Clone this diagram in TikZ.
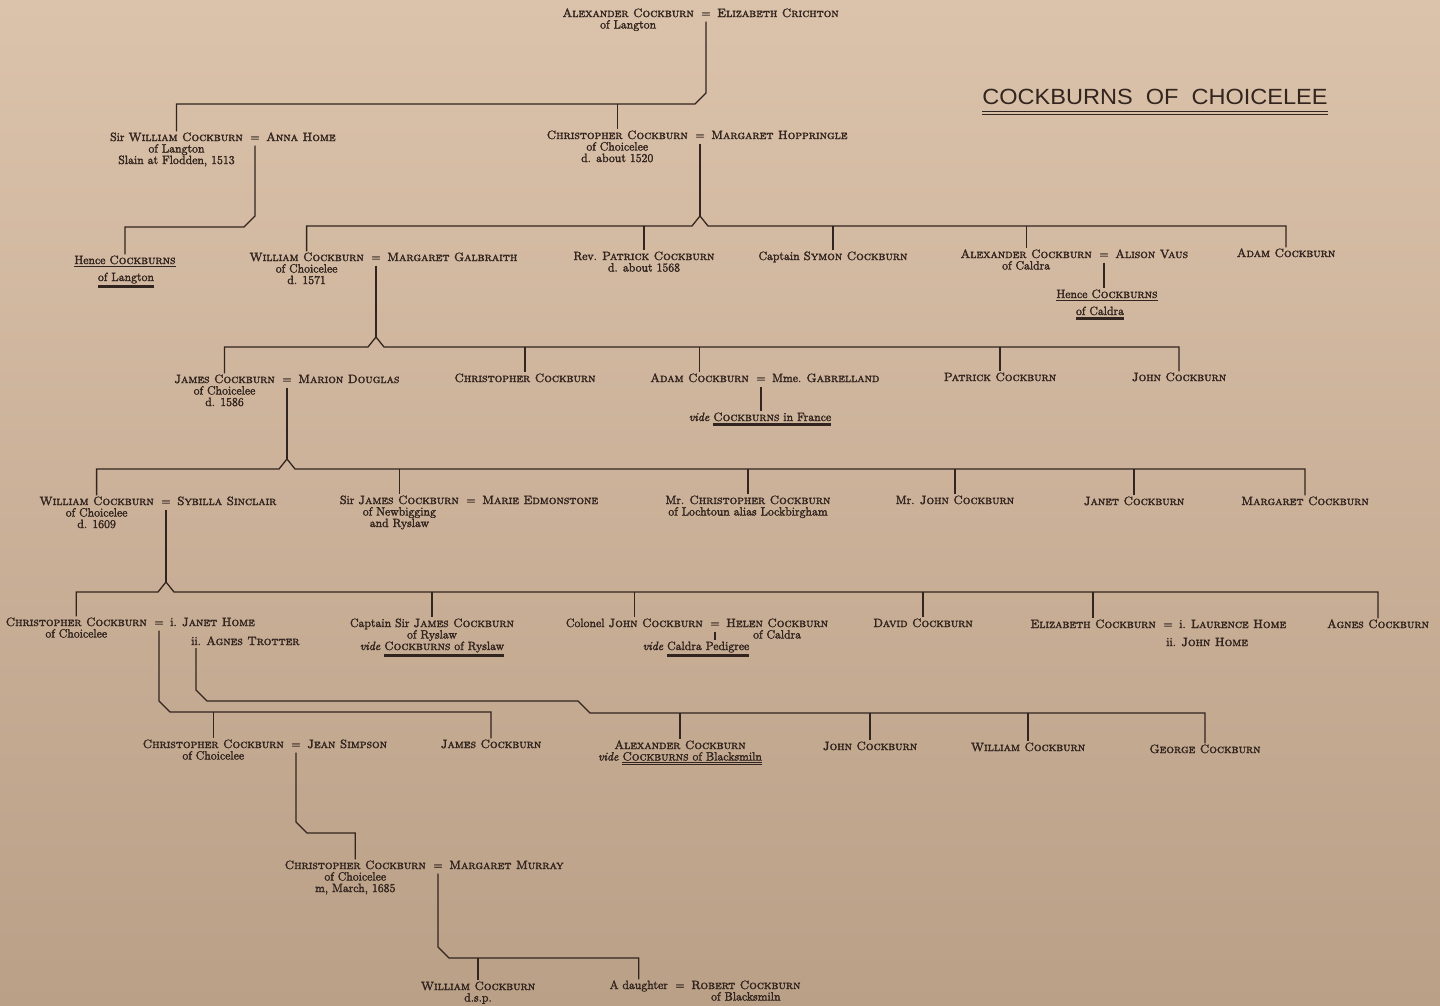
\documentclass[tikz,border=0pt]{standalone}
\usepackage{fontspec}
\usepackage{graphicx}
\newfontfamily\titlefont{Liberation Sans}
\definecolor{ink}{RGB}{50,36,30}
\definecolor{paperTop}{RGB}{219,194,170}
\definecolor{paperBot}{RGB}{186,160,135}

% single and double underlines that keep the baseline of the text
\newcommand\sul[1]{\vtop{\hbox{#1}\kern1.6pt\hrule height 0.7pt}}
\newcommand\dul[1]{\vtop{\hbox{#1}\kern1.4pt\hrule height 0.6pt\kern0.9pt\hrule height 1.4pt}}

% heavier printing ink: fill and stroke the glyphs
\newcommand\inkon{\special{pdf:literal direct 2 Tr 0.28 w}}
\newcommand\inkoff{\special{pdf:literal direct 0 Tr}}

% a married pair: "=" sign with husband to its left and wife to its right
\newcommand\couple[5]{%
  \node[eqs, anchor=base] (e#1) at (#2,#3) {=};
  \node[nm, anchor=base east] (a#1) at ([xshift=-12pt]e#1.base) {#4};
  \node[nm, anchor=base west] (b#1) at ([xshift=11pt]e#1.base) {#5};}
% a further line of text centred under another
\newcommand\under[3]{\node[nm, anchor=base] (#1) at ([yshift=-11.5pt]#2.base) {#3};}

\begin{document}
\begin{tikzpicture}[x=1pt, y=-1pt,
  nm/.style={inner sep=0pt, text=ink, font=\fontsize{12}{11.5}\selectfont,
             text height=9.5pt, text depth=3pt,
             execute at begin node=\inkon, execute at end node=\inkoff},
  eqs/.style={nm, text depth=4.5pt},
  link/.style={draw=ink, line width=1.3pt, line join=miter}]

\shade[top color=paperTop, bottom color=paperBot] (0,0) rectangle (1440,1005);
\useasboundingbox (0,0) rectangle (1440,1005);

% ---------- title ----------
\node[inner sep=0pt, text=ink, font=\titlefont\fontsize{22}{22}\selectfont]
  (title) at (1155,97) {\scalebox{1.07}[1]{COCKBURNS\ \ OF\ \ CHOICELEE}};
\draw[ink, line width=0.8pt] ([yshift=-6pt]title.south west) -- ([yshift=-6pt]title.south east);
\draw[ink, line width=1.5pt] ([yshift=-9.5pt]title.south west) -- ([yshift=-9.5pt]title.south east);

% ---------- generation 1 ----------
\couple{0}{706}{17}{\textsc{Alexander Cockburn}}{\textsc{Elizabeth Crichton}}
\under{s0a}{a0}{of Langton}

% ---------- generation 2 ----------
\couple{1}{255}{141}{Sir \textsc{William Cockburn}}{\textsc{Anna Home}}
\under{s1a}{a1}{of Langton}
\under{s1b}{s1a}{Slain at Flodden, 1513}

\couple{2}{700}{139}{\textsc{Christopher Cockburn}}{\textsc{Margaret Hoppringle}}
\under{s2a}{a2}{of Choicelee}
\under{s2b}{s2a}{d. about 1520}

% ---------- generation 3 ----------
\node[nm, anchor=base] (hl) at (125,264) {\sul{Hence \textsc{Cockburns}}};
\node[nm, anchor=base] (hl2) at (126,281) {\dul{of Langton}};

\couple{3}{376}{261}{\textsc{William Cockburn}}{\textsc{Margaret Galbraith}}
\under{s3a}{a3}{of Choicelee}
\under{s3b}{s3a}{d. 1571}

\node[nm, anchor=base] (rp) at (644,260) {Rev. \textsc{Patrick Cockburn}};
\under{rps}{rp}{d. about 1568}

\node[nm, anchor=base] (cs) at (833,260) {Captain \textsc{Symon Cockburn}};

\couple{4}{1104}{258}{\textsc{Alexander Cockburn}}{\textsc{Alison Vaus}}
\under{s4a}{a4}{of Caldra}

\node[nm, anchor=base] (ad) at (1286,257) {\textsc{Adam Cockburn}};

\node[nm, anchor=base] (hc) at (1107,298) {\sul{Hence \textsc{Cockburns}}};
\node[nm, anchor=base] (hc2) at (1100,315) {\dul{of Caldra}};

% ---------- generation 4 ----------
\couple{5}{287}{383}{\textsc{James Cockburn}}{\textsc{Marion Douglas}}
\under{s5a}{a5}{of Choicelee}
\under{s5b}{s5a}{d. 1586}

\node[nm, anchor=base] (cc3) at (525,382) {\textsc{Christopher Cockburn}};

\couple{6}{761}{382}{\textsc{Adam Cockburn}}{Mme. \textsc{Gabrelland}}
\node[nm, anchor=base] (v6) at (760,421) {\textit{vide} \dul{\textsc{Cockburns} in France}};

\node[nm, anchor=base] (pc3) at (1000,381) {\textsc{Patrick Cockburn}};
\node[nm, anchor=base] (jc3) at (1179,381) {\textsc{John Cockburn}};

% ---------- generation 5 ----------
\couple{7}{166}{505}{\textsc{William Cockburn}}{\textsc{Sybilla Sinclair}}
\under{s7a}{a7}{of Choicelee}
\under{s7b}{s7a}{d. 1609}

\couple{8}{471}{504}{Sir \textsc{James Cockburn}}{\textsc{Marie Edmonstone}}
\under{s8a}{a8}{of Newbigging}
\under{s8b}{s8a}{and Ryslaw}

\node[nm, anchor=base] (mc) at (748,504) {Mr. \textsc{Christopher Cockburn}};
\under{mcs}{mc}{of Lochtoun alias Lockbirgham}
\node[nm, anchor=base] (mj) at (955,504) {Mr. \textsc{John Cockburn}};
\node[nm, anchor=base] (jt) at (1134,505) {\textsc{Janet Cockburn}};
\node[nm, anchor=base] (mg) at (1305,505) {\textsc{Margaret Cockburn}};

% ---------- generation 6 ----------
\couple{9}{159}{626}{\textsc{Christopher Cockburn}}{i. \textsc{Janet Home}}
\under{s9a}{a9}{of Choicelee}
\node[nm, anchor=base west] (b9b) at (191,645) {ii. \textsc{Agnes Trotter}};

\node[nm, anchor=base] (cj) at (432,627) {Captain Sir \textsc{James Cockburn}};
\under{cjs1}{cj}{of Ryslaw}
\under{cjs2}{cjs1}{\textit{vide} \dul{\textsc{Cockburns} of Ryslaw}}

\couple{10}{715}{627}{Colonel \textsc{John Cockburn}}{\textsc{Helen Cockburn}}
\under{s10}{b10}{of Caldra}
\node[nm, anchor=base] (v10) at (696,650) {\textit{vide} \dul{Caldra Pedigree}};

\node[nm, anchor=base] (dc) at (923,627) {\textsc{David Cockburn}};

\couple{11}{1168}{628}{\textsc{Elizabeth Cockburn}}{i. \textsc{Laurence Home}}
\node[nm, anchor=base west] (b11b) at (1166,646) {ii. \textsc{John Home}};

\node[nm, anchor=base] (ag) at (1378,628) {\textsc{Agnes Cockburn}};

% ---------- generation 7 ----------
\couple{12}{296}{748}{\textsc{Christopher Cockburn}}{\textsc{Jean Simpson}}
\under{s12}{a12}{of Choicelee}
\node[nm, anchor=base] (jm) at (491,748) {\textsc{James Cockburn}};
\node[nm, anchor=base] (ax) at (680,749) {\textsc{Alexander Cockburn}};
\under{axs}{ax}{\textit{vide} \dul{\textsc{Cockburns} of Blacksmiln}}
\node[nm, anchor=base] (jn) at (870,750) {\textsc{John Cockburn}};
\node[nm, anchor=base] (wm) at (1028,751) {\textsc{William Cockburn}};
\node[nm, anchor=base] (gc) at (1205,753) {\textsc{George Cockburn}};

% ---------- generation 8 ----------
\couple{13}{438}{869}{\textsc{Christopher Cockburn}}{\textsc{Margaret Murray}}
\under{s13a}{a13}{of Choicelee}
\under{s13b}{s13a}{m, March, 1685}

% ---------- generation 9 ----------
\node[nm, anchor=base] (wd) at (478,990) {\textsc{William Cockburn}};
\under{wds}{wd}{d.s.p.}
\couple{14}{680}{989}{A daughter}{\textsc{Robert Cockburn}}
\under{s14}{b14}{of Blacksmiln}

% ---------- descent lines ----------
\coordinate (bar0) at (0,104);
\draw[link] (e0.south) -- (706,93) -- (695,104) -- (a1.north |- bar0) -- (a1.north);
\draw[link] (a2.north |- bar0) -- (a2.north);

\coordinate (bar1) at (0,227);
\draw[link] (e1.south) -- (255,216) -- (244,227) -- (hl.north |- bar1) -- (hl.north);

\coordinate (k2) at (700,226);
\draw[link] (e2.south) -- ([yshift=10pt]k2);
\draw[link] (a3.north) -- (a3.north |- k2) -- ([xshift=-8pt]k2) -- ([yshift=10pt]k2)
  -- ([xshift=8pt]k2) -- (ad.north |- k2) -- (ad.north);
\foreach \c in {rp,cs,a4} \draw[link] (\c.north |- k2) -- (\c.north);
\draw[link] (e4.south) -- (e4.south |- hc.north);

\coordinate (k3) at (376,347);
\draw[link] (e3.south) -- ([yshift=10pt]k3);
\draw[link] (a5.north) -- (a5.north |- k3) -- ([xshift=-8pt]k3) -- ([yshift=10pt]k3)
  -- ([xshift=8pt]k3) -- (jc3.north |- k3) -- (jc3.north);
\foreach \c in {cc3,a6,pc3} \draw[link] (\c.north |- k3) -- (\c.north);
\draw[link] (e6.south) -- (e6.south |- v6.north);

\coordinate (k4) at (287,469);
\draw[link] (e5.south) -- ([yshift=10pt]k4);
\draw[link] (a7.north) -- (a7.north |- k4) -- ([xshift=-8pt]k4) -- ([yshift=10pt]k4)
  -- ([xshift=8pt]k4) -- (mg.north |- k4) -- (mg.north);
\foreach \c in {a8,mc,mj,jt} \draw[link] (\c.north |- k4) -- (\c.north);

\coordinate (k5) at (166,592);
\draw[link] (e7.south) -- ([yshift=10pt]k5);
\draw[link] (a9.north) -- (a9.north |- k5) -- ([xshift=-8pt]k5) -- ([yshift=10pt]k5)
  -- ([xshift=8pt]k5) -- (ag.north |- k5) -- (ag.north);
\foreach \c in {cj,a10,dc,a11} \draw[link] (\c.north |- k5) -- (\c.north);
\draw[link] (e10.south) -- (e10.south |- v10.north);

% issue of the first marriage
\coordinate (bar6) at (0,712);
\draw[link] (e9.south) -- (159,701) -- (170,712) -- (jm.north |- bar6) -- (jm.north);
\draw[link] (a12.north |- bar6) -- (a12.north);
% issue of the second marriage
\coordinate (bar6b) at (0,713);
\draw[link] ([xshift=5pt]b9b.south west) -- (196,690) -- (207,701) -- (578,701) -- (590,713)
  -- (gc.north |- bar6b) -- (gc.north);
\foreach \c in {ax,jn,wm} \draw[link] (\c.north |- bar6b) -- (\c.north);

\coordinate (bar7) at (0,833);
\draw[link] (e12.south) -- (296,822) -- (307,833) -- (a13.north |- bar7) -- (a13.north);

\coordinate (bar8) at (0,958);
\draw[link] (e13.south) -- (438,947) -- (449,958) -- (a14.north |- bar8) -- (a14.north);
\draw[link] (wd.north |- bar8) -- (wd.north);

\end{tikzpicture}
\end{document}
